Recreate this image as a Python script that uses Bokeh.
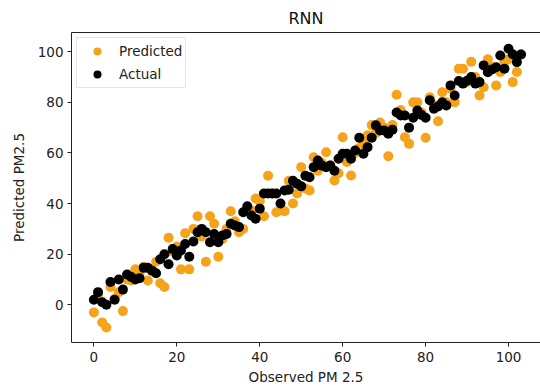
from bokeh.plotting import figure
from bokeh.models import LinearAxis, FixedTicker, Range1d, Legend, LegendItem
from bokeh.embed import file_html
from bokeh.resources import INLINE

observed = list(range(0, 104))
actual = [2, 5, 1, 0, 9, 2, 10, 6, 12, 11,
          10, 10.5, 14.6, 14.6, 13.5, 12.5, 18, 20, 16, 22,
          19.5, 21.5, 24, 19, 25, 28.7, 30, 28.7, 24.7, 28,
          24.7, 27.4, 28, 32, 31.3, 30.7, 36.6, 38.9, 35.3, 34,
          38, 44, 44, 44, 44, 40, 45.2, 45.5, 49, 47.8,
          46.8, 51, 50.4, 54.4, 57, 55, 54.4, 55, 53, 57.7,
          59.7, 59.7, 57.7, 61, 66, 59.7, 62.3, 66, 70.9, 68.9,
          68.9, 67.6, 69.2, 76, 74.8, 74.8, 70, 73.9, 76.8, 75,
          73.9, 80.8, 77.5, 78.4, 80, 78.8, 86.7, 82.7, 88.4, 87.4,
          88.5, 90, 87.4, 88, 94.6, 91.9, 93, 93.9, 98.5, 93.3,
          101.2, 99, 95.9, 98.9]
predicted = [-3, 4, -7, -9, 7, 2.4, 5, -2.5, 10, 9.6,
             14, 12, 15, 9.6, 14, 17, 8.5, 7, 26.5, 21,
             23, 14, 28.3, 14, 30, 35, 27, 17, 35, 32,
             19, 26, 30, 37, 33, 28.7, 30, 38, 37.3, 42,
             41, 35, 51, 44, 36.6, 37.3, 37, 49, 40, 44,
             54.4, 46, 45.2, 58.3, 53, 56, 60.3, 55, 49.1, 52,
             66.2, 56.4, 51.1, 60, 62, 64, 67, 71, 68, 72,
             70, 58.7, 71, 83, 77, 66.2, 63.6, 80, 80, 76,
             66, 82, 79, 72.5, 84, 80, 85.4, 80, 93.3, 93.3,
             88, 96, 90, 82.7, 86, 97, 94, 86.7, 92, 96,
             97, 88, 92, 99]
ticks = [0, 20, 40, 60, 80, 100]

FONT = "DejaVu Sans"

p = figure(width=540, height=388, output_backend="svg", toolbar_location=None,
           x_range=Range1d(-5.4, 107.7), y_range=Range1d(-14.9, 107.6),
           min_border_left=71, min_border_right=0, min_border_top=32,
           min_border_bottom=46, title="RNN")
p.title.align = "center"
p.title.text_font = FONT
p.title.text_font_size = "16px"
p.title.text_font_style = "normal"
p.title.text_color = "#111111"
p.grid.visible = False
p.outline_line_color = None
p.background_fill_color = "white"
p.border_fill_color = "white"

for ax in (p.xaxis[0], p.yaxis[0]):
    ax.ticker = FixedTicker(ticks=ticks)
    ax.minor_tick_line_color = None
    ax.major_tick_in = 0
    ax.major_tick_out = 4
    ax.axis_line_color = "#222222"
    ax.major_tick_line_color = "#222222"
    ax.major_label_text_font = FONT
    ax.major_label_text_font_size = "13.5px"
    ax.major_label_text_color = "#222222"
    ax.axis_label_text_font = FONT
    ax.axis_label_text_font_size = "13.5px"
    ax.axis_label_text_font_style = "normal"
    ax.axis_label_text_color = "#222222"
p.xaxis[0].axis_label = "Observed PM 2.5"
p.yaxis[0].axis_label = "Predicted PM2.5"
p.xaxis[0].major_label_standoff = 5
p.xaxis[0].axis_label_standoff = 4
p.yaxis[0].major_label_standoff = 4
p.yaxis[0].axis_label_standoff = 8

top = LinearAxis(ticker=FixedTicker(ticks=[]), axis_line_color="#222222",
                 major_tick_line_color=None, minor_tick_line_color=None,
                 major_label_text_color=None)
p.add_layout(top, "above")

r_pred = p.scatter(observed, predicted, size=10, color="#f5a31a", line_color=None)
r_act = p.scatter(observed, actual, size=10, color="black", line_color=None)

legend = Legend(items=[LegendItem(label="Predicted", renderers=[r_pred]),
                       LegendItem(label="Actual", renderers=[r_act])],
                location="top_left", margin=5, padding=3, spacing=3,
                glyph_width=34, glyph_height=20, label_height=20, label_standoff=5,
                label_text_font=FONT, label_text_font_size="13.5px",
                label_text_color="#222222",
                border_line_color="#cccccc", border_line_width=1,
                background_fill_color="white", background_fill_alpha=0.8)
p.add_layout(legend)

open("out.html", "w").write(file_html(p, INLINE))
